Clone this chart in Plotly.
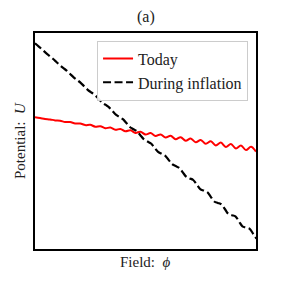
import plotly.graph_objects as go

# Field values (arbitrary units) and potentials
field_today = [0, 5, 10, 15, 20, 25, 30, 35, 40, 45, 50, 55, 60, 65, 70, 75, 80, 85, 90, 95,
               100, 105, 110, 115, 120, 125, 130, 135, 140, 145, 150, 155, 160, 165, 170, 175,
               180, 185, 190, 195, 200, 205, 210, 215, 220]
potential_today = [131.7, 131.0, 130.1, 129.6, 128.6, 128.3, 127.0, 126.9, 125.5, 125.5,
                   123.9, 124.2, 122.3, 122.8, 120.8, 121.4, 119.2, 120.1, 117.7, 118.7,
                   116.1, 117.3, 114.5, 115.9, 113.0, 114.6, 111.4, 113.2, 109.8, 111.8,
                   108.3, 110.5, 106.7, 109.1, 105.2, 107.7, 103.6, 106.4, 102.0, 105.0,
                   100.5, 103.6, 98.9, 102.2, 97.4]

field_inflation = [0, 3.5, 7, 10.5, 14, 17.5, 21, 24.5, 28, 31.5, 35, 38.5, 42, 45.5, 49, 52.5,
                   56, 59.5, 63, 66.5, 70, 73.5, 77, 80.5, 84, 87.5, 91, 94.5, 98, 101.5,
                   105, 108.5, 112, 115.5, 119, 122.5, 126, 129.5, 133, 136.5, 140, 143.5,
                   147, 150.5, 154, 157.5, 161, 164.5, 168, 171.5, 175, 178.5, 182, 185.5,
                   189, 192.5, 196, 199.5, 203, 206.5, 210, 213.5, 217, 220.5]
potential_inflation = [205.7, 202.7, 199.6, 196.4, 193.4, 190.5, 187.3, 184.0, 181.1, 178.4,
                       175.0, 171.6, 168.9, 166.2, 162.7, 159.2, 156.6, 154.1, 150.5, 146.8,
                       144.3, 141.9, 138.2, 134.4, 132.0, 129.8, 125.9, 122.0, 119.8, 117.6,
                       113.6, 109.6, 107.5, 105.5, 101.3, 97.2, 95.2, 93.3, 89.1, 84.8,
                       82.9, 81.2, 76.8, 72.4, 70.6, 69.0, 64.5, 59.9, 58.4, 56.9,
                       52.2, 47.5, 46.1, 44.7, 40.0, 35.1, 33.8, 32.6, 27.7, 22.7,
                       21.5, 20.4, 15.4, 10.3]

FONT = "Liberation Serif"
TXT = "#222222"

fig = go.Figure()
fig.add_trace(go.Scatter(x=field_today, y=potential_today, mode="lines", name="Today",
                         line=dict(color="#ff0000", width=2, shape="spline", smoothing=1)))
fig.add_trace(go.Scatter(x=field_inflation, y=potential_inflation, mode="lines",
                         name="During inflation",
                         line=dict(color="#000000", width=2.2, dash="8px,3.5px",
                                   shape="spline", smoothing=1)))

# page body adds an 8px offset, so the figure is 276px with margins compensated
fig.update_layout(
    width=276, height=276,
    margin=dict(l=27, r=28, t=25, b=35),
    paper_bgcolor="white", plot_bgcolor="white",
    font=dict(family=FONT, size=16, color=TXT),
    showlegend=True,
    legend=dict(x=0.964, y=0.965, xanchor="right", yanchor="top",
                bgcolor="rgba(255,255,255,0.9)", bordercolor="#cccccc", borderwidth=1,
                font=dict(family=FONT, size=16, color=TXT),
                itemwidth=30, tracegroupgap=0),
    xaxis=dict(range=[0, 220], showticklabels=False, ticks="", showgrid=False,
               zeroline=False, showline=True, linecolor="black", linewidth=1.5, mirror=True),
    yaxis=dict(range=[0, 216], showticklabels=False, ticks="", showgrid=False,
               zeroline=False, showline=True, linecolor="black", linewidth=1.5, mirror=True),
    annotations=[
        dict(text="(a)", xref="paper", yref="paper", x=0.5, y=1.0, yshift=16,
             yanchor="middle", showarrow=False, font=dict(family=FONT, size=16, color=TXT)),
        dict(text="Field:  <i>ϕ</i>", xref="paper", yref="paper", x=0.5, y=0, yshift=-13,
             yanchor="middle", showarrow=False, font=dict(family=FONT, size=15, color=TXT)),
        dict(text="Potential:  <i>U</i>", xref="paper", yref="paper", x=0, y=0.5, xshift=-15,
             xanchor="center", yanchor="middle", textangle=-90, showarrow=False,
             font=dict(family=FONT, size=15, color=TXT)),
    ],
)

fig.write_html("out.html")
